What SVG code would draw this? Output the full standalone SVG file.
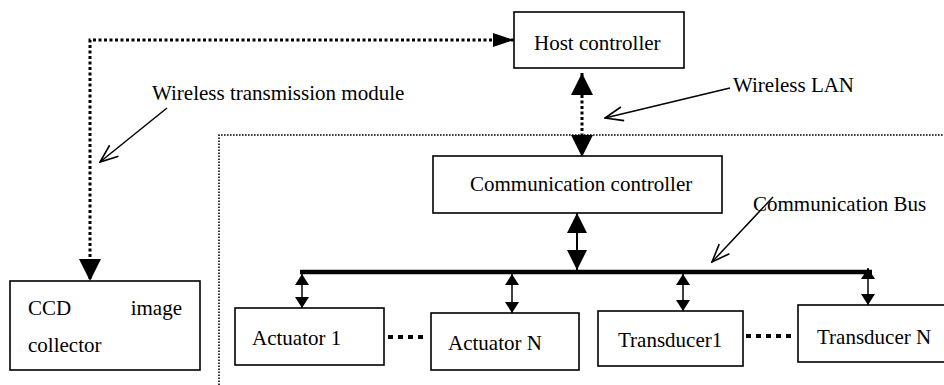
<svg xmlns="http://www.w3.org/2000/svg" width="944" height="385" viewBox="0 0 944 385">
<style>
  .box { fill: #fff; stroke: #000; stroke-width: 1.6; }
  .lbl { font-family: "Liberation Serif", "Times New Roman", serif; font-size: 21px; fill: #000; }
  .thickdot { fill: none; stroke: #000; stroke-width: 3; stroke-dasharray: 3 2.5; }
  .thindot { fill: none; stroke: #000; stroke-width: 1.6; stroke-dasharray: 1.6 1.4; }
  .bigdot { fill: none; stroke: #000; stroke-width: 4; stroke-dasharray: 5 5; }
  .solid { fill: none; stroke: #000; stroke-width: 2; }
  .thin { fill: none; stroke: #000; stroke-width: 1.5; }
  .bus { fill: none; stroke: #000; stroke-width: 4.5; }
</style>
<defs>
  <marker id="big" markerUnits="userSpaceOnUse" viewBox="0 0 22 22" refX="22" refY="11" markerWidth="22" markerHeight="22" orient="auto-start-reverse">
    <path d="M0,0 L22,11 L0,22 z" fill="#000"/>
  </marker>
  <marker id="host" markerUnits="userSpaceOnUse" viewBox="0 0 21 14" refX="21" refY="7" markerWidth="21" markerHeight="14" orient="auto-start-reverse">
    <path d="M0,0 L21,7 L0,14 z" fill="#000"/>
  </marker>
  <marker id="mid" markerUnits="userSpaceOnUse" viewBox="0 0 20 20" refX="20" refY="10" markerWidth="20" markerHeight="20" orient="auto-start-reverse">
    <path d="M0,0 L20,10 L0,20 z" fill="#000"/>
  </marker>
  <marker id="small" markerUnits="userSpaceOnUse" viewBox="0 0 11 14" refX="11" refY="7" markerWidth="11" markerHeight="14" orient="auto-start-reverse">
    <path d="M0,0 L11,7 L0,14 z" fill="#000"/>
  </marker>
  <marker id="open" markerUnits="userSpaceOnUse" viewBox="0 0 20 16" refX="19" refY="8" markerWidth="20" markerHeight="16" orient="auto">
    <path d="M1,1 L19,8 L1,15" fill="none" stroke="#000" stroke-width="1.6"/>
  </marker>
</defs>

<g id="boundary">
  <path class="thindot" d="M219,385 V135 H944"/>
</g>

<g id="connectors">
  <path class="thickdot" d="M514,40 H90 V281" marker-start="url(#host)" marker-end="url(#big)"/>
  <path class="thickdot" d="M582,73 V157" marker-start="url(#big)" marker-end="url(#big)"/>
  <path class="solid" d="M577,213 V270" marker-start="url(#mid)" marker-end="url(#mid)"/>
  <path class="bus" d="M300,272 H872"/>
  <path class="thin" d="M302,274 V308" marker-start="url(#small)" marker-end="url(#small)"/>
  <path class="thin" d="M512,274 V313" marker-start="url(#small)" marker-end="url(#small)"/>
  <path class="thin" d="M683,274 V311" marker-start="url(#small)" marker-end="url(#small)"/>
  <path class="thin" d="M868,268 V305" marker-start="url(#small)" marker-end="url(#small)"/>
  <path class="bigdot" d="M388,337 H428"/>
  <path class="bigdot" d="M746,336 H794"/>
  <path class="thin" d="M167,108 L100,162" marker-end="url(#open)"/>
  <path class="thin" d="M730,88 L605,118" marker-end="url(#open)"/>
  <path class="thin" d="M773,197 L712,262" marker-end="url(#open)"/>
</g>

<g id="labels">
  <text class="lbl" x="152" y="100">Wireless transmission module</text>
  <text class="lbl" x="733" y="92">Wireless LAN</text>
  <text class="lbl" x="753" y="211">Communication Bus</text>
</g>

<g id="host-controller">
  <rect class="box" x="514" y="12" width="170" height="56"/>
  <text class="lbl" x="534" y="50">Host controller</text>
</g>

<g id="communication-controller">
  <rect class="box" x="433" y="156" width="289" height="57"/>
  <text class="lbl" x="470" y="191">Communication controller</text>
</g>

<g id="ccd-image-collector">
  <rect class="box" x="10" y="281" width="190" height="89"/>
  <text class="lbl" x="28" y="315">CCD</text>
  <text class="lbl" x="182" y="315" text-anchor="end">image</text>
  <text class="lbl" x="28" y="352">collector</text>
</g>

<g id="actuator-1">
  <rect class="box" x="235" y="308" width="149" height="57"/>
  <text class="lbl" x="252" y="345">Actuator 1</text>
</g>

<g id="actuator-n">
  <rect class="box" x="431" y="313" width="148" height="57"/>
  <text class="lbl" x="448" y="350">Actuator N</text>
</g>

<g id="transducer-1">
  <rect class="box" x="598" y="311" width="145" height="55"/>
  <text class="lbl" x="618" y="347">Transducer1</text>
</g>

<g id="transducer-n">
  <rect class="box" x="798" y="305" width="150" height="57"/>
  <text class="lbl" x="817" y="344">Transducer N</text>
</g>
</svg>
